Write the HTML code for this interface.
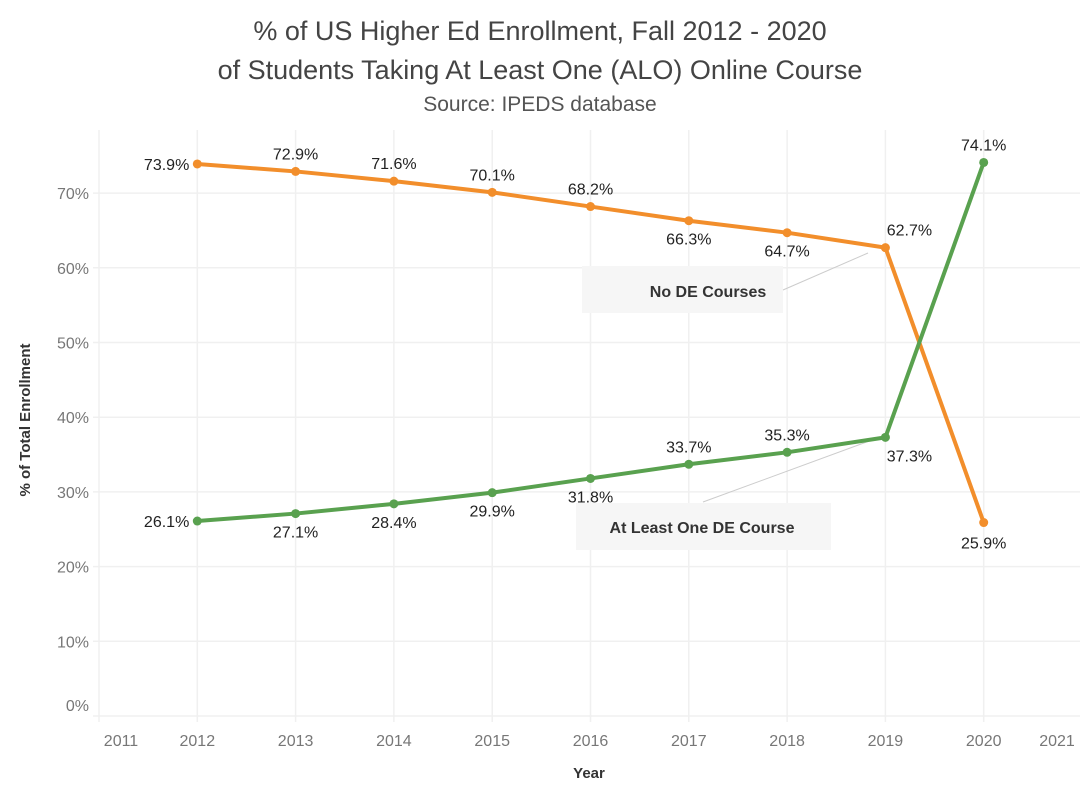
<!DOCTYPE html>
<html><head><meta charset="utf-8"><style>
body{margin:0;background:#fff;}
svg{display:block;font-family:"Liberation Sans",sans-serif;}
</style></head><body>
<svg id="c" width="1080" height="794">
<text x="540" y="40" text-anchor="middle" font-size="27" fill="#444">% of US Higher Ed Enrollment, Fall 2012 - 2020</text>
<text x="540" y="79" text-anchor="middle" font-size="27" fill="#444">of Students Taking At Least One (ALO) Online Course</text>
<text x="540" y="111" text-anchor="middle" font-size="21" fill="#555">Source: IPEDS database</text>
<text transform="translate(30,420) rotate(-90)" text-anchor="middle" font-size="15" font-weight="bold" fill="#333">% of Total Enrollment</text>
<text x="589" y="778" text-anchor="middle" font-size="15" font-weight="bold" fill="#333">Year</text>
<g id="grid"></g>
<g id="ann">
<rect x="582" y="266" width="201" height="47" fill="#f6f6f6"/>
<text x="708" y="297" text-anchor="middle" font-size="16" font-weight="bold" fill="#333">No DE Courses</text>
<line x1="783" y1="290" x2="868" y2="253" stroke="#ccc"/>
<rect x="576" y="503" width="255" height="47" fill="#f6f6f6"/>
<text x="702" y="533" text-anchor="middle" font-size="16" font-weight="bold" fill="#333">At Least One DE Course</text>
<line x1="703" y1="502" x2="872" y2="440" stroke="#ccc"/>
</g>
<g id="marks"></g>
</svg>
<script>
const years=[2012,2013,2014,2015,2016,2017,2018,2019,2020];
const noDE=[73.9,72.9,71.6,70.1,68.2,66.3,64.7,62.7,25.9];
const alo=[26.1,27.1,28.4,29.9,31.8,33.7,35.3,37.3,74.1];
const xTicks=[2011,2012,2013,2014,2015,2016,2017,2018,2019,2020,2021];
const yTicks=[0,10,20,30,40,50,60,70];
const NS="http://www.w3.org/2000/svg";
const x=v=>99+(v-2011)*98.3;
const y=v=>716-v*7.47;
function mk(t,a,p){const e=document.createElementNS(NS,t);for(const k in a)e.setAttribute(k,a[k]);p.appendChild(e);return e;}
const g=document.getElementById('grid'),m=document.getElementById('marks');
yTicks.forEach(v=>{
 const l=mk('line',{x1:93,x2:1080,y1:y(v),y2:y(v),stroke:'#f0f0f0','stroke-width':1.5},g);
 
 
 const t=mk('text',{x:89,y:(v===0?y(v)-5:y(v)+6),'text-anchor':'end','font-size':16,fill:'#777'},g);
 t.textContent=v+'%';
 
 
});
xTicks.forEach((v,i)=>{
 const l=mk('line',{x1:x(v),x2:x(v),y1:130,y2:722,stroke:'#f0f0f0','stroke-width':1.5},g);
 
 
 let tx=x(v); if(i===0)tx+=22; if(i===xTicks.length-1)tx-=25;
 const t=mk('text',{x:tx,y:746,'text-anchor':'middle','font-size':16,fill:'#777'},g);
 t.textContent=v;
 
 
});
function series(vals,color,name,above){
 const p=mk('polyline',{points:vals.map((v,i)=>x(years[i])+','+y(v)).join(' '),fill:'none',stroke:color,'stroke-width':4,'stroke-linejoin':'round'},m);
 
 
 vals.forEach((v,i)=>{
  const c=mk('circle',{cx:x(years[i]),cy:y(v),r:4.5,fill:color},m);
  
  
  let lx=x(years[i]),ly,anchor='middle';
  if(i===0){lx-=8;ly=y(v)+6;anchor='end';}
  else if(i===8){ly=name==='no-de'?y(v)+26:y(v)-12;}
  else if(i===7){lx+=24;ly=name==='no-de'?y(v)-12:y(v)+24;}
  else{ly=above[i]?y(v)-12:y(v)+24;}
  const t=mk('text',{x:lx,y:ly,'text-anchor':anchor,'font-size':16,fill:'#222'},m);
  t.textContent=v.toFixed(1)+'%';
  
  
 });
}
series(noDE,'#f28e2b','no-de',[1,1,1,1,1,0,0,1,0]);
series(alo,'#59a14f','alo',[0,0,0,0,0,1,1,0,1]);
</script>
</body></html>
